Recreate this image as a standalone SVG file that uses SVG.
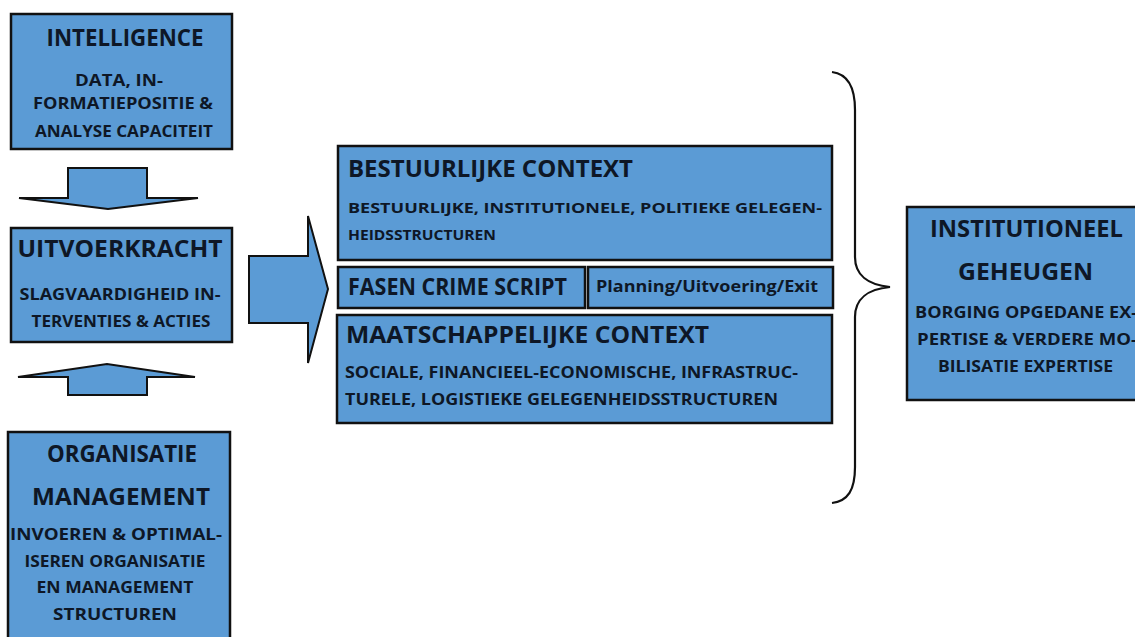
<svg xmlns="http://www.w3.org/2000/svg" width="1135" height="637" viewBox="0 0 1135 637">
<style>
.box{fill:#5b9bd5;stroke:#111;stroke-width:2.5}
.arr{fill:#5b9bd5;stroke:#111;stroke-width:2}
text{font-family:"Open Sans",Lato,"Liberation Sans",sans-serif;font-weight:bold;fill:#0e1726}
.t{font-size:22.5px}
.s{font-size:16.5px}
.c{text-anchor:middle}
</style>
<rect width="1135" height="637" fill="#fff"/>
<g id="connectors">
<polygon class="arr" points="68,168 147,168 147,198 198,198 108,209 19,198 68,198"/>
<polygon class="arr" points="68,395 147,395 147,377 195,377 107,364 18,377 68,377"/>
<polygon class="arr" points="249,256 308,256 308,216 328,289 308,363 308,323 249,323"/>
<path d="M832,72 C848,74 855,88 855,110 L855,257 C855,275 868,285 890,287 C868,289 855,299 855,317 L855,467 C855,490 848,501 832,503" fill="none" stroke="#111" stroke-width="2.2"/>
</g>
<g id="intelligence">
<rect class="box" x="11" y="14" width="221" height="135"/>
<text class="t c" x="125" y="46" textLength="157" lengthAdjust="spacingAndGlyphs">INTELLIGENCE</text>
<text class="s c" x="119" y="86" textLength="88" lengthAdjust="spacingAndGlyphs">DATA, IN-</text>
<text class="s c" x="123" y="109" textLength="180" lengthAdjust="spacingAndGlyphs">FORMATIEPOSITIE &amp;</text>
<text class="s c" x="124" y="137" textLength="178" lengthAdjust="spacingAndGlyphs">ANALYSE CAPACITEIT</text>
</g>
<g id="uitvoerkracht">
<rect class="box" x="11" y="228" width="221" height="114"/>
<text class="t c" x="120" y="257" textLength="205" lengthAdjust="spacingAndGlyphs">UITVOERKRACHT</text>
<text class="s c" x="120" y="300" textLength="201" lengthAdjust="spacingAndGlyphs">SLAGVAARDIGHEID IN-</text>
<text class="s c" x="121" y="327" textLength="179" lengthAdjust="spacingAndGlyphs">TERVENTIES &amp; ACTIES</text>
</g>
<g id="organisatie">
<rect class="box" x="8" y="432" width="222" height="220"/>
<text class="t c" x="122" y="462" textLength="150" lengthAdjust="spacingAndGlyphs">ORGANISATIE</text>
<text class="t c" x="121" y="505" textLength="178" lengthAdjust="spacingAndGlyphs">MANAGEMENT</text>
<text class="s c" x="116" y="540" textLength="212" lengthAdjust="spacingAndGlyphs">INVOEREN &amp; OPTIMAL-</text>
<text class="s c" x="115" y="567" textLength="181" lengthAdjust="spacingAndGlyphs">ISEREN ORGANISATIE</text>
<text class="s c" x="115" y="593" textLength="157" lengthAdjust="spacingAndGlyphs">EN MANAGEMENT</text>
<text class="s c" x="115" y="620" textLength="124" lengthAdjust="spacingAndGlyphs">STRUCTUREN</text>
</g>
<g id="bestuurlijke">
<rect class="box" x="338" y="146" width="494" height="114"/>
<text class="t" x="348" y="177" textLength="285" lengthAdjust="spacingAndGlyphs">BESTUURLIJKE CONTEXT</text>
<text class="s" x="348" y="213" textLength="474" lengthAdjust="spacingAndGlyphs" style="font-size:15px">BESTUURLIJKE, INSTITUTIONELE, POLITIEKE GELEGEN-</text>
<text class="s" x="348" y="240" textLength="148" lengthAdjust="spacingAndGlyphs" style="font-size:15px">HEIDSSTRUCTUREN</text>
</g>
<g id="fasen">
<rect class="box" x="338" y="267" width="247" height="41"/>
<text class="t" x="348" y="295" textLength="219" lengthAdjust="spacingAndGlyphs" style="font-size:24px">FASEN CRIME SCRIPT</text>
</g>
<g id="planning">
<rect class="box" x="588" y="267" width="245" height="41"/>
<text class="s" x="596" y="292" textLength="222" lengthAdjust="spacingAndGlyphs">Planning/Uitvoering/Exit</text>
</g>
<g id="maatschappelijke">
<rect class="box" x="337" y="315" width="495" height="108"/>
<text class="t" x="346" y="343" textLength="363" lengthAdjust="spacingAndGlyphs" style="font-size:24px">MAATSCHAPPELIJKE CONTEXT</text>
<text class="s" x="345" y="378" textLength="453" lengthAdjust="spacingAndGlyphs">SOCIALE, FINANCIEEL-ECONOMISCHE, INFRASTRUC-</text>
<text class="s" x="345" y="405" textLength="433" lengthAdjust="spacingAndGlyphs">TURELE, LOGISTIEKE GELEGENHEIDSSTRUCTUREN</text>
</g>
<g id="institutioneel">
<rect class="box" x="907" y="207" width="240" height="193"/>
<text class="t" x="930" y="237" textLength="193" lengthAdjust="spacingAndGlyphs">INSTITUTIONEEL</text>
<text class="t" x="958" y="280" textLength="135" lengthAdjust="spacingAndGlyphs">GEHEUGEN</text>
<text class="s" x="915" y="318" textLength="222" lengthAdjust="spacingAndGlyphs">BORGING OPGEDANE EX-</text>
<text class="s" x="917" y="345" textLength="220" lengthAdjust="spacingAndGlyphs">PERTISE &amp; VERDERE MO-</text>
<text class="s" x="938" y="372" textLength="175" lengthAdjust="spacingAndGlyphs">BILISATIE EXPERTISE</text>
</g>
</svg>
